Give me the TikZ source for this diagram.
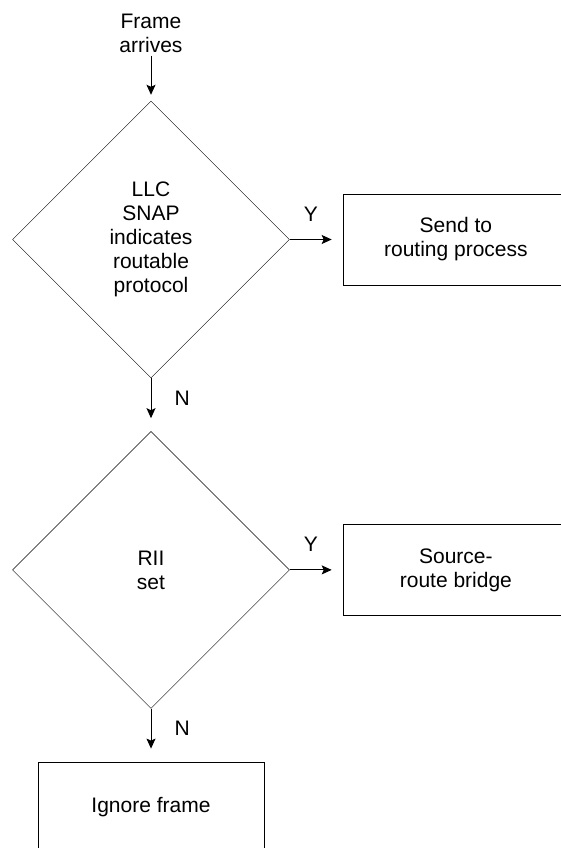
\documentclass[tikz,border=0pt]{standalone}
\usepackage{fontspec}
\setmainfont{Liberation Sans}
\usetikzlibrary{shapes.geometric,positioning,arrows.meta}

\begin{document}
\begin{tikzpicture}[x=1pt,y=-1pt,
		every node/.style={font=\fontsize{21}{24}\selectfont},
		decision/.style={draw,diamond,aspect=1,inner sep=0pt,minimum width=277pt,minimum height=277pt,align=center},
		block/.style={draw,rectangle,inner sep=0pt,minimum width=226pt,minimum height=91pt,align=center},
		flow/.style={-{Stealth[length=10pt,width=9pt,inset=2pt]},line width=1pt},
		lbl/.style={inner sep=0pt}]
			%%%%% START %%%%%
			\clip (0,0) rectangle (561,848);
			
			\node[align=center,inner sep=3pt] (start) at (151,33) {Frame\\arrives};
			
			\node[decision] (llc) at (151,239.5) {LLC\\SNAP\\indicates\\routable\\protocol};
			\node[block, right=53pt of llc] (send) {Send to\\routing process};
			
			\node[decision, below=53pt of llc] (rii) {RII\\set};
			\node[block, right=53pt of rii] (srb) {Source-\\route bridge};
			
			\node[block, below=53pt of rii] (ignore) {Ignore frame};
			
			\draw[flow, shorten >=6pt] (start) -- (llc);
			\draw[flow, shorten >=11pt] (llc) -- node[lbl, pos=.4, above=18pt] {Y} (send);
			\draw[flow, shorten >=13pt] (llc) -- node[lbl, pos=.38, right=23pt] {N} (rii);
			\draw[flow, shorten >=11pt] (rii) -- node[lbl, pos=.4, above=18pt] {Y} (srb);
			\draw[flow, shorten >=13pt] (rii) -- node[lbl, pos=.38, right=23pt] {N} (ignore);
			%%%%% END %%%%%
\end{tikzpicture}
\end{document}
